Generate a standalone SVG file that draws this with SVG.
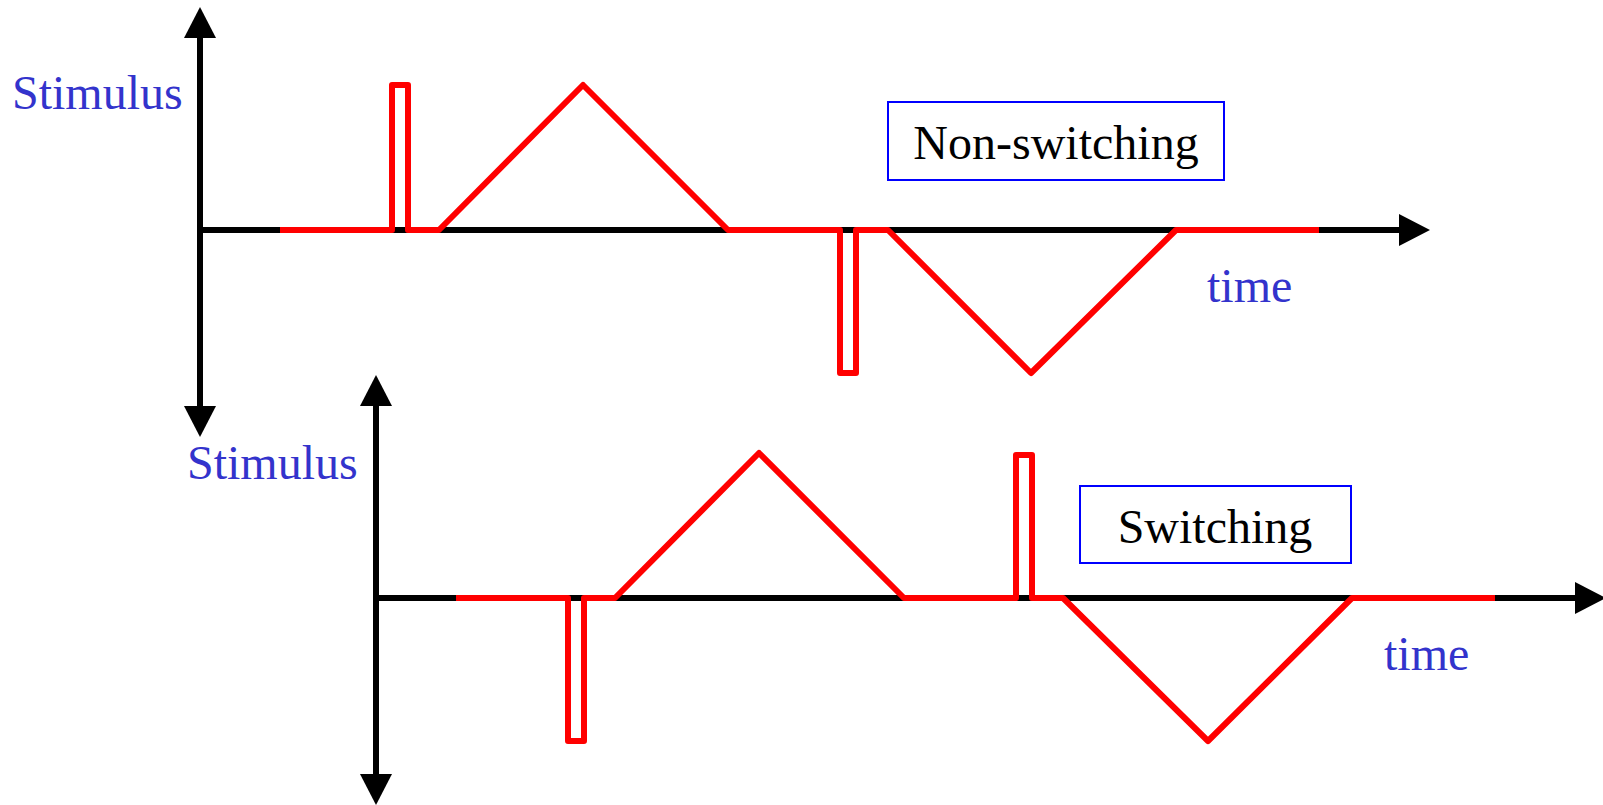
<svg xmlns="http://www.w3.org/2000/svg" width="1603" height="805" viewBox="0 0 1603 805">
<style>
.axis{stroke:#000;stroke-width:6;fill:none;marker-end:url(#ah);marker-start:url(#ah)}
.axis1{stroke:#000;stroke-width:6;fill:none;marker-end:url(#ah)}
.sig{stroke:#FF0000;stroke-width:6;fill:none;stroke-linejoin:round}
.lbl{font-size:48px;fill:#3333CC}
.box{fill:#fff;stroke:#0000FF;stroke-width:2}
.btxt{font-size:48px;fill:#000;text-anchor:middle}
</style>
<defs>
<marker id="ah" markerUnits="userSpaceOnUse" markerWidth="32" markerHeight="32" refX="0" refY="16" orient="auto-start-reverse" viewBox="0 0 31 32">
<path d="M0,0 L31,16 L0,32 Z" fill="#000"/>
</marker>
</defs>
<g id="connectors">
<line class="axis" x1="200" y1="406" x2="200" y2="38"/>
<line class="axis1" x1="200" y1="230" x2="1399" y2="230"/>
<line class="axis" x1="376" y1="774" x2="376" y2="406"/>
<line class="axis1" x1="376" y1="598" x2="1575" y2="598"/>
</g>
<g id="signal-top">
<polyline class="sig" points="280,230 392,230 392,85 408,85 408,230 439,230 583,85 728,230 840,230 840,373 856,373 856,230 888,230 1031,373 1176,230 1319,230"/>
</g>
<g id="signal-bottom">
<polyline class="sig" points="456,598 568,598 568,741 584,741 584,598 615,598 759,453 904,598 1016,598 1016,455 1032,455 1032,598 1063,598 1208,741 1352,598 1495,598"/>
</g>
<g id="labels-top" font-family="Liberation Serif, Times New Roman, serif">
<text class="lbl" x="12" y="109">Stimulus</text>
<text class="lbl" x="1207" y="302">time</text>
</g>
<g id="labels-bottom" font-family="Liberation Serif, Times New Roman, serif">
<text class="lbl" x="187" y="479">Stimulus</text>
<text class="lbl" x="1384" y="670">time</text>
</g>
<g id="box-nonswitching" font-family="Liberation Serif, Times New Roman, serif">
<rect class="box" x="888" y="102" width="336" height="78"/>
<text class="btxt" x="1056" y="159">Non-switching</text>
</g>
<g id="box-switching" font-family="Liberation Serif, Times New Roman, serif">
<rect class="box" x="1080" y="486" width="271" height="77"/>
<text class="btxt" x="1215" y="543">Switching</text>
</g>
</svg>
